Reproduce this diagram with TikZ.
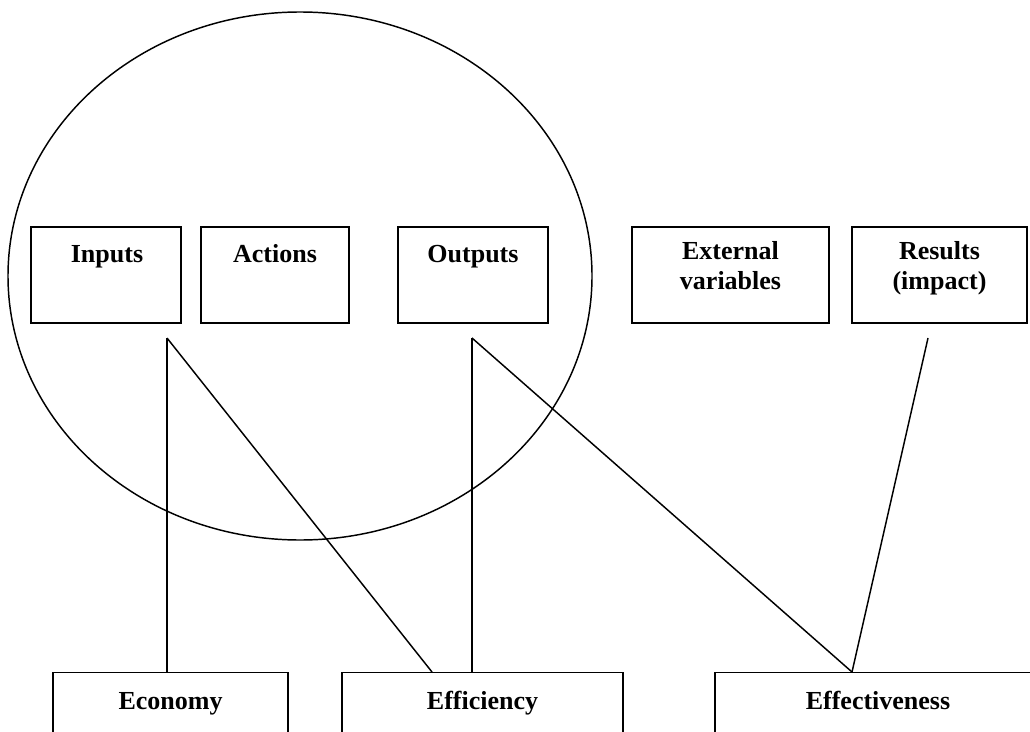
\documentclass[tikz,border=0pt]{standalone}
\usepackage{fontspec}
\setmainfont{Liberation Serif}
\begin{document}
\begin{tikzpicture}[x=0.75pt,y=-0.75pt,
  box/.style={draw,line width=1.1pt,inner sep=0pt},
  lbl/.style={font=\fontsize{19.5}{21.8}\selectfont\bfseries,align=center,inner sep=0pt,anchor=base},
  conn/.style={line width=1.1pt}]
\clip (0,0) rectangle (1030,731);
\useasboundingbox (0,0) rectangle (1030,731);
% ellipse
\draw[line width=1.1pt] (300,276) ellipse [x radius=292, y radius=264];
% top boxes
\node[box,minimum width=150*0.75pt,minimum height=96*0.75pt] (inp) at (106,275) {};
\node[box,minimum width=148*0.75pt,minimum height=96*0.75pt] (act) at (275,275) {};
\node[box,minimum width=150*0.75pt,minimum height=96*0.75pt] (out) at (473,275) {};
\node[box,minimum width=197*0.75pt,minimum height=96*0.75pt] (ext) at (730.5,275) {};
\node[box,minimum width=175*0.75pt,minimum height=96*0.75pt] (res) at (939.5,275) {};
\node[lbl] (inpT) at (107,262) {Inputs};
\node[lbl] (actT) at (275,262) {Actions};
\node[lbl] (outT) at (473,262) {Outputs};
\node[lbl] (extT) at (730.5,289) {External\\variables};
\node[lbl] (resT) at (939.5,289) {Results\\(impact)};
% bottom boxes
\node[box,minimum width=235*0.75pt,minimum height=120*0.75pt,anchor=north] (eco) at (170.5,672) {};
\node[box,minimum width=281*0.75pt,minimum height=120*0.75pt,anchor=north] (eff) at (482.5,672) {};
\node[box,minimum width=330*0.75pt,minimum height=120*0.75pt,anchor=north] (efv) at (880,672) {};
\node[lbl] (ecoT) at (170.5,709) {Economy};
\node[lbl] (effT) at (482.5,709) {Efficiency};
\node[lbl] (efvT) at (878,709) {Effectiveness};
% connectors
\coordinate (pi) at (167,338);
\coordinate (po) at (472,338);
\coordinate (pr) at (928,338);
\coordinate (qe) at (432,672);
\coordinate (qv) at (852,672);
\draw[conn] (pi) -- (pi |- eco.north);
\draw[conn] (pi) -- (qe);
\draw[conn] (po) -- (po |- eff.north);
\draw[conn] (po) -- (qv);
\draw[conn] (pr) -- (qv);
\end{tikzpicture}
\end{document}
